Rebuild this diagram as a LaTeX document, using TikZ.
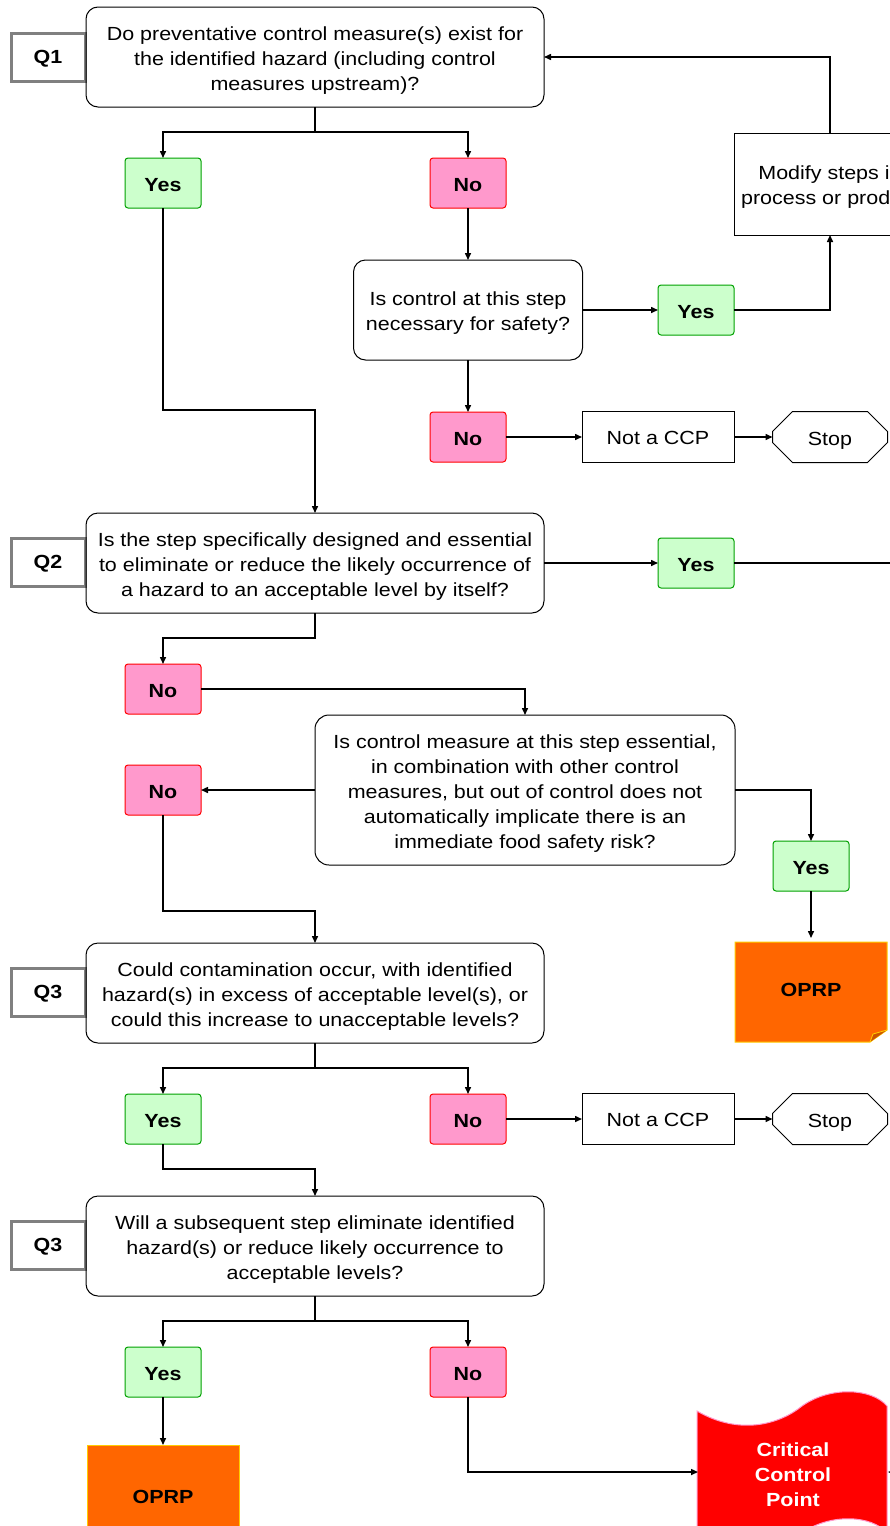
\documentclass[tikz,border=0pt]{standalone}
\usepackage{fontspec}
\setmainfont[FakeStretch=1.13]{Liberation Sans}
\usetikzlibrary{arrows.meta,shapes.misc,calc}
\definecolor{yesfill}{HTML}{CCFFCC}
\definecolor{yesdraw}{HTML}{00A000}
\definecolor{nofill}{HTML}{FF99CC}
\definecolor{nodraw}{HTML}{FF0000}
\definecolor{oprpfill}{HTML}{FF6600}
\definecolor{oprpdraw}{HTML}{FFCC00}
\definecolor{folddark}{HTML}{CC5200}
\definecolor{ccpdraw}{HTML}{FF99CC}
\definecolor{labgray}{HTML}{808080}
\newcommand{\fs}{\fontsize{19pt}{25pt}\selectfont}
\begin{document}
\begin{tikzpicture}[x=1pt,y=-1pt,
  every node/.style={font=\fs, outer sep=0pt, inner sep=2pt},
  txt/.style={label={[align=center,yshift=-3.5pt]center:#1}},
  stxt/.style={label={[align=center,yshift=-1pt]center:#1}},
  btxt/.style={label={[align=center,yshift=-2pt,font=\fs\bfseries]center:#1}},
  wtxt/.style={label={[align=center,yshift=-3pt,font=\fs\bfseries,text=white]center:#1}},
  qbox/.style={draw, line width=1pt, rounded corners=12pt, minimum width=458pt, minimum height=100pt},
  labbox/.style={draw=labgray, line width=3pt, fill=white, minimum width=74pt, minimum height=48pt},
  yesbox/.style={draw=yesdraw, fill=yesfill, line width=1pt, rounded corners=3pt, minimum width=76pt, minimum height=50pt},
  nobox/.style={draw=nodraw, fill=nofill, line width=1pt, rounded corners=3pt, minimum width=76pt, minimum height=50pt},
  plainbox/.style={draw, line width=1pt, minimum width=152pt, minimum height=51pt},
  stopbox/.style={draw, line width=1pt, chamfered rectangle, chamfered rectangle xsep=13pt, chamfered rectangle ysep=10pt, minimum width=115pt, minimum height=51pt, text height=16pt, text depth=0pt},
  conn/.style={line width=1.5pt},
  arr/.style={conn, -{Triangle[length=7pt,width=6pt]}}
]
\useasboundingbox (0,0) rectangle (890,1526);
\clip (0,0) rectangle (890,1526);
\fill[white] (0,0) rectangle (890,1526);

% Q1
\node[labbox, btxt={Q1}] (l1) at (48,57) {};
\node[qbox, txt={Do preventative control measure(s) exist for\\the identified hazard (including control\\measures upstream)?}] (q1) at (315,57) {};
\node[yesbox, btxt={Yes}] (y1) at (163,183) {};
\node[nobox, btxt={No}] (n1) at (468,183) {};
\node[draw, line width=1pt, rounded corners=12pt, minimum width=229pt, minimum height=100pt, txt={Is control at this step\\necessary for safety?}] (c1) at (468,310) {};
\node[yesbox, btxt={Yes}] (y2) at (696,310) {};
\node[draw, line width=1pt, minimum width=192pt, minimum height=102pt, txt={Modify steps in\\process or product}] (mod) at (830,184) {};
\node[nobox, btxt={No}] (n2) at (468,437) {};
\node[plainbox, stxt={Not a CCP}] (ncc1) at (658,437) {};
\node[stopbox] (s1) at (830,437) {Stop};

% Q2
\node[labbox, btxt={Q2}] (l2) at (48,562) {};
\node[qbox, txt={Is the step specifically designed and essential\\to eliminate or reduce the likely occurrence of\\a hazard to an acceptable level by itself?}] (q2) at (315,563) {};
\node[yesbox, btxt={Yes}] (y3) at (696,563) {};
\node[nobox, btxt={No}] (n3) at (163,689) {};
\node[draw, line width=1pt, rounded corners=14pt, minimum width=420pt, minimum height=150pt, txt={Is control measure at this step essential,\\in combination with other control\\measures, but out of control does not\\automatically implicate there is an\\immediate food safety risk?}] (c2) at (525,790) {};
\node[nobox, btxt={No}] (n4) at (163,790) {};
\node[yesbox, btxt={Yes}] (y4) at (811,866) {};

% OPRP 1 with folded corner
\fill[oprpfill] (735,942) -- (887,942) -- (887,1030) -- (870,1042) -- (735,1042) -- cycle;
\draw[oprpdraw, line width=1pt] (735,942) -- (887,942) -- (887,1030) -- (870,1042) -- (735,1042) -- cycle;
\fill[folddark] (887,1030) -- (870,1042) -- (873,1034) -- cycle;
\draw[oprpdraw, line width=0.8pt] (887,1030) -- (873,1034) -- (870,1042);
\node[minimum width=152pt, minimum height=100pt, btxt={OPRP}] (o1) at (811,988) {};

% Q3
\node[labbox, btxt={Q3}] (l3) at (48,992) {};
\node[qbox, txt={Could contamination occur, with identified\\hazard(s) in excess of acceptable level(s), or\\could this increase to unacceptable levels?}] (q3) at (315,993) {};
\node[yesbox, btxt={Yes}] (y5) at (163,1119) {};
\node[nobox, btxt={No}] (n5) at (468,1119) {};
\node[plainbox, stxt={Not a CCP}] (ncc2) at (658,1119) {};
\node[stopbox] (s2) at (830,1119) {Stop};

% Q4
\node[labbox, btxt={Q3}] (l4) at (48,1245) {};
\node[qbox, txt={Will a subsequent step eliminate identified\\hazard(s) or reduce likely occurrence to\\acceptable levels?}] (q4) at (315,1246) {};
\node[yesbox, btxt={Yes}] (y6) at (163,1372) {};
\node[nobox, btxt={No}] (n6) at (468,1372) {};
\node[fill=oprpfill, draw=oprpdraw, line width=1pt, minimum width=152pt, minimum height=100pt, btxt={OPRP}] (o2) at (163,1495) {};

% CCP tape shape
\path[fill=red, draw=ccpdraw, line width=1pt]
  (697,1411) .. controls (740,1436) and (780,1424) .. (802,1406)
  .. controls (830,1386) and (872,1388) .. (887,1406)
  -- (887,1533)
  .. controls (872,1515) and (830,1513) .. (802,1533)
  .. controls (780,1551) and (740,1563) .. (697,1538) -- cycle;
\node[minimum width=190pt, minimum height=150pt, wtxt={Critical\\Control\\Point}] (ccp) at (793,1472) {};

% connectors
\draw[arr] (q1.south) -- ++(0,25) -| (y1.north);
\draw[arr] (q1.south) -- ++(0,25) -| (n1.north);
\draw[arr] (n1.south) -- (c1.north);
\draw[arr] (c1.east) -- (y2.west);
\draw[arr] (y2.east) -| (mod.south);
\draw[arr] (mod.north) |- (q1.east);
\draw[arr] (c1.south) -- (n2.north);
\draw[arr] (n2.east) -- (ncc1.west);
\draw[arr] (ncc1.east) -- (s1.west);
\draw[arr] (y1.south) -- ++(0,202) -| (q2.north);
\draw[arr] (q2.east) -- (y3.west);
\coordinate (rr) at (905,563);
\draw[arr] (y3.east) -- (rr) |- (ccp.east);
\draw[arr] (q2.south) -- ++(0,25) -| (n3.north);
\draw[arr] (n3.east) -| (c2.north);
\draw[arr] (c2.west) -- (n4.east);
\draw[arr] (c2.east) -| (y4.north);
\draw[arr] (y4.south) -- (o1.north);
\draw[arr] (n4.south) -- ++(0,96) -| (q3.north);
\draw[arr] (q3.south) -- ++(0,25) -| (y5.north);
\draw[arr] (q3.south) -- ++(0,25) -| (n5.north);
\draw[arr] (n5.east) -- (ncc2.west);
\draw[arr] (ncc2.east) -- (s2.west);
\draw[arr] (y5.south) -- ++(0,25) -| (q4.north);
\draw[arr] (q4.south) -- ++(0,25) -| (y6.north);
\draw[arr] (q4.south) -- ++(0,25) -| (n6.north);
\draw[arr] (y6.south) -- (o2.north);
\draw[arr] (n6.south) |- (ccp.west);
\end{tikzpicture}
\end{document}
